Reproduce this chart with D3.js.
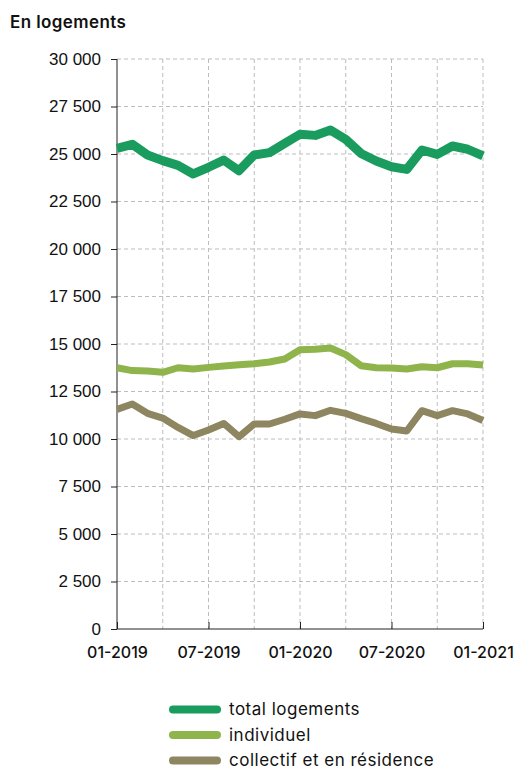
<!DOCTYPE html>
<html><head><meta charset="utf-8">
<script src="https://cdn.jsdelivr.net/npm/d3@7"></script>
<style>body{margin:0;background:#fff;}svg{display:block;font-family:Inter,"Open Sans",sans-serif;}</style>
</head><body><svg id="c" width="518" height="772"></svg>
<script>
const months = ["01-2019","02-2019","03-2019","04-2019","05-2019","06-2019","07-2019","08-2019","09-2019","10-2019","11-2019","12-2019",
"01-2020","02-2020","03-2020","04-2020","05-2020","06-2020","07-2020","08-2020","09-2020","10-2020","11-2020","12-2020","01-2021"];
const total = [25300,25510,24950,24650,24400,23950,24300,24680,24120,24950,25070,25560,26040,25980,26260,25770,25030,24630,24330,24190,25210,24980,25420,25250,24900];
const individuel = [13750,13600,13580,13510,13750,13680,13770,13840,13910,13960,14050,14210,14700,14720,14790,14440,13860,13750,13740,13680,13800,13750,13960,13960,13890];
const collectif = [11560,11840,11350,11100,10610,10180,10470,10820,10120,10790,10790,11040,11320,11230,11510,11350,11070,10820,10530,10420,11490,11230,11490,11320,10970];
const yTicks = [0,2500,5000,7500,10000,12500,15000,17500,20000,22500,25000,27500,30000];
const xLabels = ["01-2019","07-2019","01-2020","07-2020","01-2021"];
const seriesNames = ["total logements","individuel","collectif et en résidence"];
const colors = ["#1b9c5f","#8fb44c","#8e8660"];
const widths = [9,7,7];

const svg = d3.select("#c");
const m = {l:117,r:483,t:59,b:629};
const x = d3.scalePoint().domain(months).range([m.l,m.r]);
const y = d3.scaleLinear().domain([0,30000]).range([m.b,m.t]);
const fmt = v => d3.format(",")(v).replace(/,/g," ");

// gridlines
const g = svg.append("g");
g.selectAll("line.h").data(yTicks.filter(d=>d>0)).join("line")
 .attr("x1",m.l).attr("x2",m.r).attr("y1",d=>y(d)).attr("y2",d=>y(d))
 .attr("stroke","#bdbdbd").attr("stroke-width",1).attr("stroke-dasharray","4,3");
g.selectAll("line.v").data(months.filter((d,i)=>i%3===0 && i>0)).join("line")
 .attr("x1",d=>x(d)).attr("x2",d=>x(d)).attr("y1",m.t).attr("y2",m.b)
 .attr("stroke","#bdbdbd").attr("stroke-width",1).attr("stroke-dasharray","4,3");

// axes
const ya = svg.append("g").attr("transform",`translate(${m.l},0)`)
 .call(d3.axisLeft(y).tickValues(yTicks).tickFormat(fmt).tickSize(6).tickPadding(10));
ya.select(".domain").attr("stroke","#222").attr("d",`M0,${m.t}V${m.b}`);
ya.selectAll(".tick line").attr("stroke","#222");
ya.selectAll("text").attr("font-size",17).attr("fill","#111").attr("font-family","'Liberation Sans',Arial,sans-serif");

const xa = svg.append("g").attr("transform",`translate(0,${m.b})`)
 .call(d3.axisBottom(x).tickValues(xLabels).tickSize(0).tickPadding(18));
xa.select(".domain").attr("stroke","#222").attr("d",`M${m.l},0H${m.r}`);
xa.selectAll(".tick").append("line").attr("y1",0).attr("y2",-7).attr("stroke","#222");
xa.selectAll("text").attr("font-size",16).attr("font-weight",500).attr("fill","#111").attr("dy","0.71em").attr("font-family","Inter,sans-serif");

// lines
const data = [total,individuel,collectif];
const line = d3.line().x((d,i)=>x(months[i])).y(d=>y(d)).curve(d3.curveLinear);
svg.selectAll("path.s").data(data).join("path")
 .attr("fill","none").attr("stroke",(d,i)=>colors[i]).attr("stroke-width",(d,i)=>widths[i])
 .attr("stroke-linejoin","round").attr("d",line);

// title
svg.append("text").attr("x",10).attr("y",28).attr("font-size",17).attr("font-weight",600)
 .attr("letter-spacing","0.4px").attr("fill","#111").text("En logements");

// legend
const lg = svg.append("g");
seriesNames.forEach((n,i)=>{
  const yy = 709.5 + i*25.5;
  lg.append("line").attr("x1",173).attr("x2",217).attr("y1",yy).attr("y2",yy)
    .attr("stroke",colors[i]).attr("stroke-width",8).attr("stroke-linecap","round");
  lg.append("text").attr("x",229).attr("y",yy).attr("dy","0.35em").attr("font-size",17)
    .attr("letter-spacing","0.5px").attr("fill","#111").text(n);
});
</script></body></html>
